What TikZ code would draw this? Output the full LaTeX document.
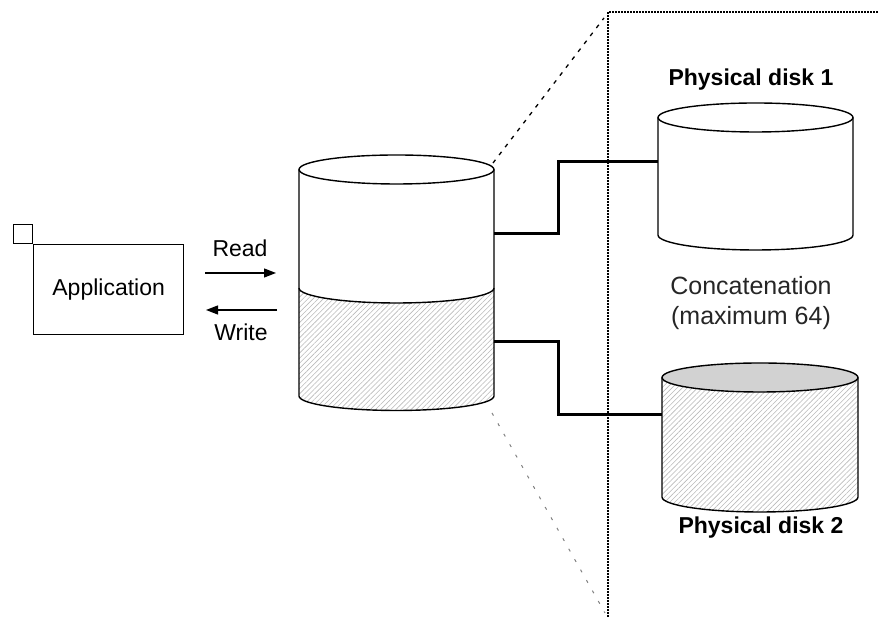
\documentclass[tikz,border=0pt]{standalone}
\usepackage{fontspec}
\setmainfont{Liberation Sans}
\usetikzlibrary{arrows.meta,patterns.meta}
\begin{document}
\begin{tikzpicture}[x=1pt,y=1pt,
  outline/.style={line width=1.4pt},
  boxline/.style={draw,line width=1.3pt,inner sep=0pt},
  hatch/.style={pattern={Lines[angle=45,distance=3.6pt,line width=0.6pt]},pattern color=gray!55},
  wire/.style={line width=3pt},
  lbl/.style={font=\fontsize{23}{27}\selectfont,inner sep=0pt},
  boldlbl/.style={font=\bfseries\fontsize{23}{27}\selectfont,inner sep=0pt},
  flow/.style={line width=1.2pt,-{Triangle[length=12pt,width=9pt]}},
  frameline/.style={line width=1.2pt,dash pattern=on 1.5pt off 1.5pt}]
\useasboundingbox (0,0) rectangle (879,617);

% application
\node[boxline,minimum width=150pt,minimum height=90pt,anchor=north west,
      font=\fontsize{23}{27}\selectfont] (app) at (33,373) {Application};
\node[boxline,minimum size=19pt,anchor=south east] (corner) at (app.north west) {};

% read / write
\node[lbl] (read) at (240,369) {Read};
\node[lbl] (write) at (241,285) {Write};
\coordinate (r1) at (205,344); \coordinate (r2) at (276,344);
\coordinate (w1) at (277,307); \coordinate (w2) at (206,307);
\draw[flow] (r1) -- (r2);
\draw[flow] (w1) -- (w2);

% central cylinder
\path[hatch] (299,329) arc[start angle=180,end angle=360,x radius=97.5,y radius=15]
  -- (494,221) arc[start angle=0,end angle=-180,x radius=97.5,y radius=14.5] -- cycle;
\draw[outline] (396.5,447.5) ellipse[x radius=97.5,y radius=14.5];
\draw[outline] (299,447.5) -- (299,221) arc[start angle=180,end angle=360,x radius=97.5,y radius=14.5] -- (494,447.5);
\draw[outline] (299,329) arc[start angle=180,end angle=360,x radius=97.5,y radius=15];
\coordinate (c1) at (494,383);
\coordinate (c2) at (494,275);
\coordinate (ctop) at (493,454);
\coordinate (cbot) at (492,204);

% physical disk 1
\node[boldlbl] (pd1) at (751,537) {Physical disk 1};
\draw[outline] (755.5,499.5) ellipse[x radius=97.5,y radius=14.5];
\draw[outline] (658,499.5) -- (658,382) arc[start angle=180,end angle=360,x radius=97.5,y radius=15] -- (853,499.5);
\coordinate (d1) at (658,455);

% concatenation
\node[align=center,font=\fontsize{25}{30}\selectfont,text=black!85,inner sep=0pt] (concat) at (751,314) {Concatenation\\(maximum 64)};

% physical disk 2
\path[hatch] (662,239.5) arc[start angle=180,end angle=360,x radius=98,y radius=14.5]
  -- (858,120) arc[start angle=0,end angle=-180,x radius=98,y radius=15] -- cycle;
\draw[outline,fill=gray!35] (760,239.5) ellipse[x radius=98,y radius=14.5];
\draw[outline] (662,239.5) -- (662,120) arc[start angle=180,end angle=360,x radius=98,y radius=15] -- (858,239.5);
\coordinate (d2) at (662,202);
\node[boldlbl] (pd2) at (761,89) {Physical disk 2};

% connectors
\draw[wire] (c1) -- ++(64,0) |- (d1);
\draw[wire] (c2) -- ++(64,0) |- (d2);

% frame and zoom lines
\coordinate (fb) at (608,0); \coordinate (fc) at (608,605); \coordinate (fr) at (879,605);
\coordinate (zt) at (604,599); \coordinate (zb) at (605,4);
\draw[frameline] (fb) -- (fc) -- (fr);
\draw[line width=1.3pt,dash pattern=on 4pt off 6pt] (ctop) -- (zt);
\draw[line width=1pt,gray,dash pattern=on 3pt off 9pt] (cbot) -- (zb);
\end{tikzpicture}
\end{document}
